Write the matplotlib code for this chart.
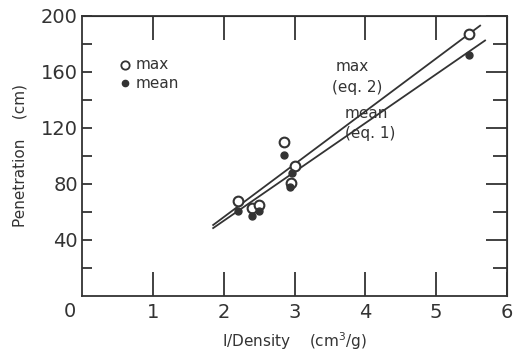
import numpy as np
import matplotlib.pyplot as plt

# data
inv_density_max = [2.2, 2.4, 2.5, 2.85, 3.0, 2.95, 5.46]
pen_max = [68, 63, 65, 110, 93, 81, 187]
inv_density_mean = [2.2, 2.4, 2.5, 2.85, 2.97, 2.93, 5.46]
pen_mean = [61, 57, 61, 101, 88, 78, 172]

# fitted lines (eq. 2 = max, eq. 1 = mean)
x_fit_max = [1.85, 5.62]
y_fit_max = [50.7, 193.0]
x_fit_mean = [1.85, 5.69]
y_fit_mean = [48.5, 182.4]

ink = '#333333'
plt.rcParams['font.family'] = 'DejaVu Sans'

fig = plt.figure(figsize=(5.2, 3.52), dpi=100)
ax = fig.add_axes([0.158, 0.159, 0.817, 0.796])

ax.plot(x_fit_max, y_fit_max, color=ink, lw=1.3)
ax.plot(x_fit_mean, y_fit_mean, color=ink, lw=1.3)
ax.plot(inv_density_max, pen_max, 'o', mfc='white', mec=ink, mew=1.5, ms=7)
ax.plot(inv_density_mean, pen_mean, 'o', color=ink, ms=5)

ax.set_xlim(0, 6)
ax.set_ylim(0, 200)
ax.set_xticks([1, 2, 3, 4, 5, 6])
ax.set_yticks([40, 80, 120, 160, 200])
ax.set_yticks([20, 60, 100, 140, 180], minor=True)
ax.tick_params(axis='both', which='both', direction='in', color=ink,
               labelcolor=ink, labelsize=14, width=1.3)
ax.tick_params(axis='x', length=17, pad=5)
ax.tick_params(axis='y', which='both', length=7, pad=3)
for s in ax.spines.values():
    s.set_color(ink)
    s.set_linewidth(1.3)

# top and right ticks
axt = ax.secondary_xaxis('top')
axt.set_xticks([1, 2, 3, 4, 5, 6])
axt.tick_params(direction='in', length=17, width=1.3, color=ink, labeltop=False)
axr = ax.secondary_yaxis('right')
axr.set_yticks([40, 80, 120, 160, 200])
axr.set_yticks([20, 60, 100, 140, 180], minor=True)
axr.tick_params(which='major', direction='in', length=15, width=1.3, color=ink, labelright=False)
axr.tick_params(which='minor', direction='in', length=10, width=1.3, color=ink)

ax.text(-0.17, -11, '0', ha='center', va='center', fontsize=14, color=ink,
        clip_on=False)

ax.set_xlabel('I/Density    (cm$^3$/g)', fontsize=11, color=ink, labelpad=6)
ax.set_ylabel('Penetration    (cm)', fontsize=11, color=ink, labelpad=10)

# legend drawn by hand
ax.plot(0.6, 165, 'o', mfc='white', mec=ink, mew=1.3, ms=6)
ax.text(0.75, 165, 'max', fontsize=11, color=ink, va='center')
ax.plot(0.6, 152, 'o', color=ink, ms=4.5)
ax.text(0.75, 152, 'mean', fontsize=11, color=ink, va='center')

ax.text(3.82, 164, 'max', fontsize=11, color=ink, ha='center', va='center')
ax.text(3.88, 149, '(eq. 2)', fontsize=11, color=ink, ha='center', va='center')
ax.text(4.02, 130, 'mean', fontsize=11, color=ink, ha='center', va='center')
ax.text(4.07, 116, '(eq. 1)', fontsize=11, color=ink, ha='center', va='center')

fig.savefig('out.png', dpi=100)
